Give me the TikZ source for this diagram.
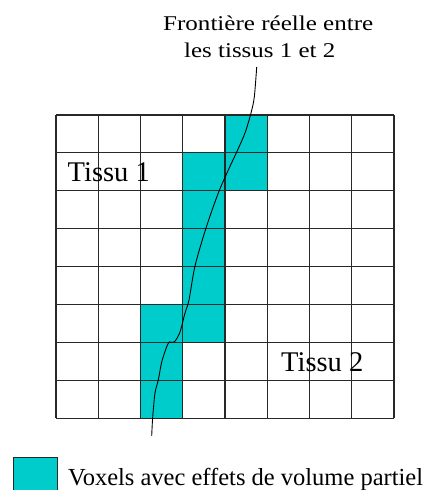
\documentclass[tikz,border=0pt]{standalone}
\usepackage{fontspec}
\usepackage{graphicx}
\setmainfont{Liberation Serif}
\definecolor{voxel}{RGB}{0,204,204}
\definecolor{gridline}{RGB}{40,40,40}
\newcommand{\fitwidth}[2]{\resizebox{#1}{\height}{#2}}
\begin{document}
\begin{tikzpicture}[x=1pt,y=-1pt,
  gridstyle/.style={draw=gridline,line width=1.1pt},
  lbl/.style={inner sep=0pt,anchor=base west},
  toplbl/.style={lbl,font=\fontsize{21}{25}\selectfont},
  tissulbl/.style={lbl,font=\fontsize{28.5}{30}\selectfont},
  legendlbl/.style={lbl,font=\fontsize{24.5}{28}\selectfont},
  boundary/.style={draw=black,line width=0.9pt}]
\useasboundingbox (0,0) rectangle (437,490);
\def\cw{42.25}
\def\ch{37.9}
% partial-volume voxels
\foreach \c/\r in {4/0,3/1,4/1,3/2,3/3,3/4,2/5,3/5,2/6,2/7}
  \fill[voxel] ({56+\c*\cw},{115+\r*\ch}) rectangle ++(\cw,\ch);
% grid
\foreach \i in {0,...,8} {
  \draw[gridstyle] ({56+\i*\cw},115) -- ({56+\i*\cw},{115+8*\ch});
  \draw[gridstyle] (56,{115+\i*\ch}) -- ({56+8*\cw},{115+\i*\ch});
}
% real boundary
\draw[boundary] plot[smooth,tension=0.5] coordinates {
  (256.7,67) (254.3,97) (251,113) (245,133) (236.7,152) (228.3,170)
  (218.3,193) (206,228) (195,266) (189,300) (185,313) (180,332)
  (175,341.2) (171.7,342.3) (169.3,341.9) (166.7,346.7) (161.7,362)
  (158.3,380) (155,393) (152.7,417) (151.7,436)};
% labels
\node[toplbl] (t1) at (163,30) {\fitwidth{210pt}{Frontière réelle entre}};
\node[toplbl] (t2) at (184,57) {\fitwidth{151pt}{les tissus 1 et 2}};
\node[tissulbl] (tissuA) at (67.5,181) {Tissu 1};
\node[tissulbl] (tissuB) at (281,371) {Tissu 2};
% legend
\draw[draw=gridline,line width=1pt,fill=voxel] (13,457) rectangle (57,490);
\node[legendlbl] (leg) at (68,485) {Voxels avec effets de volume partiel};
\end{tikzpicture}
\end{document}
